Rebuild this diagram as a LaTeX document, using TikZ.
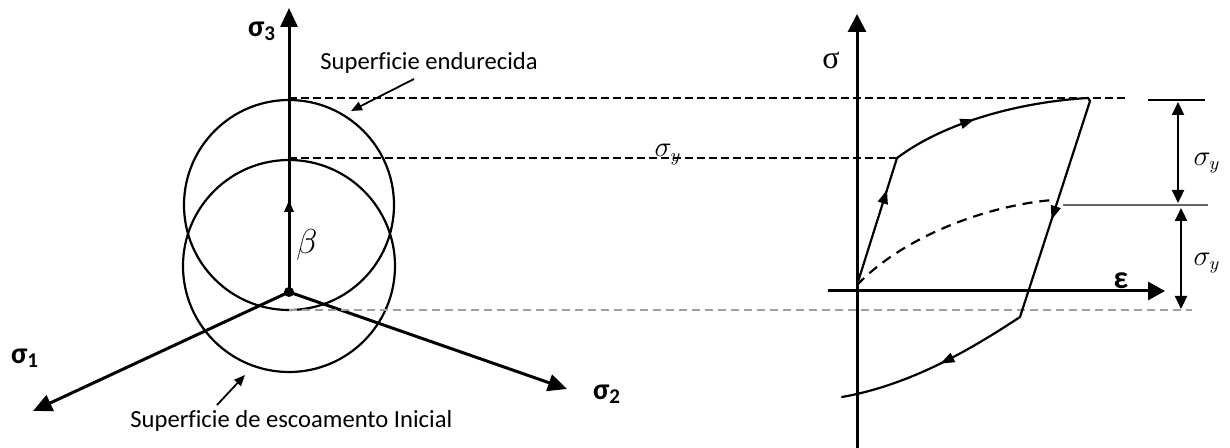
\documentclass[tikz,border=0pt]{standalone}
\usepackage{fontspec}
\setmainfont{Carlito}[Ligatures=NoCommon]
\newfontfamily\timesfont{Liberation Serif}
\usetikzlibrary{arrows.meta,decorations.markings}
\begin{document}
\begin{tikzpicture}[x=0.5pt,y=-0.5pt,
  axis/.style={line width=1.5pt},
  bigtip/.style={-{Triangle[length=9.5pt,width=8.5pt]}},
  midtip/.style={-{Triangle[length=6pt,width=4.5pt]}},
  circ/.style={line width=1.1pt},
  guide/.style={line width=0.8pt,dash pattern=on 4pt off 2pt},
  guidegray/.style={line width=1.1pt,gray!75,dash pattern=on 4pt off 2.5pt},
  leader/.style={line width=0.9pt,-{Triangle[length=5.5pt,width=4.5pt]}},
  loop/.style={line width=1.1pt,line cap=round,line join=round},
  onpath/.style={postaction={decorate},decoration={markings,
      mark=at position #1 with {\arrow{Triangle[length=7pt,width=5pt]}}}},
  dashcurve/.style={line width=1.1pt,dash pattern=on 5pt off 3.5pt},
  span/.style={line width=1.1pt,{Triangle[length=6.5pt,width=6pt]}-{Triangle[length=6.5pt,width=6pt]}},
  axlabel/.style={inner sep=0pt,font=\fontsize{15}{17}\selectfont\bfseries},
  caption/.style={inner sep=0pt,anchor=base west,font=\fontsize{12.3}{14}\selectfont},
  mathlabel/.style={inner sep=0pt,font=\fontsize{13.5}{15}\selectfont},
]
\useasboundingbox (0,0) rectangle (1230,448);

% ---------- principal stress space ----------
\coordinate (O)  at (289,292);
\coordinate (S3) at (289,8);
\coordinate (S1) at (33,411);
\coordinate (S2) at (567,389);
\coordinate (Bt) at (289,200);

\draw[circ] (289,205) circle (105);
\draw[circ] (289,266) circle (106);

\draw[axis,bigtip] (O) -- (S3);
\draw[axis,midtip] (O) -- (Bt);
\draw[axis,bigtip] (O) -- (S1);
\draw[axis,bigtip] (O) -- (S2);
\fill (O) circle (5);

\node[axlabel] (l3) at (262,31) {σ\textsubscript{3}};
\node[axlabel] (l1) at (25,358) {σ\textsubscript{1}};
\node[axlabel] (l2) at (607,394) {σ\textsubscript{2}};
\node[mathlabel,font=\fontsize{16}{18}\selectfont] (beta) at (307,245) {$\beta$};

\node[caption] (hard) at (320,70) {Superficie endurecida};
\node[caption] (init) at (130,427) {Superficie de escoamento Inicial};
\coordinate (h0) at (414,79);  \coordinate (h1) at (351,111);
\coordinate (i0) at (217,405); \coordinate (i1) at (245,375);
\draw[leader] (h0) -- (h1);
\draw[leader] (i0) -- (i1);

% ---------- stress-strain loop ----------
\coordinate (A)  at (857,285);
\coordinate (B)  at (897,158);
\coordinate (C)  at (1088,98);
\coordinate (C2) at (1090,101);
\coordinate (D)  at (1020,317);
\coordinate (E)  at (842,397);
\coordinate (F)  at (1053,200);

% guide lines across both parts
\coordinate (T0) at (289,98);  \coordinate (T1) at (1127,98);
\coordinate (Y0) at (289,158);
\coordinate (L0) at (289,310); \coordinate (L1) at (1192,310);
\draw[guide] (T0) -- (T1);
\draw[guide] (Y0) -- (B);
\draw[guidegray] (L0) -- (L1);
\node[mathlabel,anchor=base] (sy0) at (668,157) {$\sigma_y$};

% axes
\coordinate (EA) at (828,291); \coordinate (EB) at (1165,291);
\coordinate (SA) at (857,448); \coordinate (SB) at (857,14);
\draw[axis,-{Triangle[length=8.5pt,width=9pt]}] (EA) -- (EB);
\draw[axis,-{Triangle[length=9pt,width=9pt]}] (SA) -- (SB);
\node[inner sep=0pt,font=\timesfont\fontsize{16}{18}\selectfont] (sig) at (831,60) {σ};
\node[axlabel,font=\fontsize{16}{18}\selectfont\bfseries] (eps) at (1121,281) {ε};

% loading path
\draw[loop,onpath=0.75] (A) -- (B);
\draw[loop,onpath=0.42] (B) .. controls (945,122) and (1020,102) .. (C) -- (C2);
\draw[loop,onpath=0.55] (C2) -- (D);
\draw[loop,onpath=0.47] (D) .. controls (970,350) and (910,385) .. (E);
\draw[dashcurve] (A) .. controls (905,235) and (990,205) .. (F);

% yield range marks
\coordinate (R0) at (1148,100); \coordinate (R1) at (1205,100);
\coordinate (M0) at (1063,205); \coordinate (M1) at (1208,205);
\draw[line width=0.8pt] (R0) -- (R1);
\draw[line width=0.9pt,gray!80!black] (M0) -- (M1);
\coordinate (P0) at (1178,102); \coordinate (P1) at (1178,203);
\coordinate (Q0) at (1181,208); \coordinate (Q1) at (1181,309);
\draw[span] (P0) -- (P1);
\draw[span] (Q0) -- (Q1);
\node[mathlabel] (sy1) at (1207,163) {$\sigma_y$};
\node[mathlabel] (sy2) at (1207,263) {$\sigma_y$};
\end{tikzpicture}
\end{document}
